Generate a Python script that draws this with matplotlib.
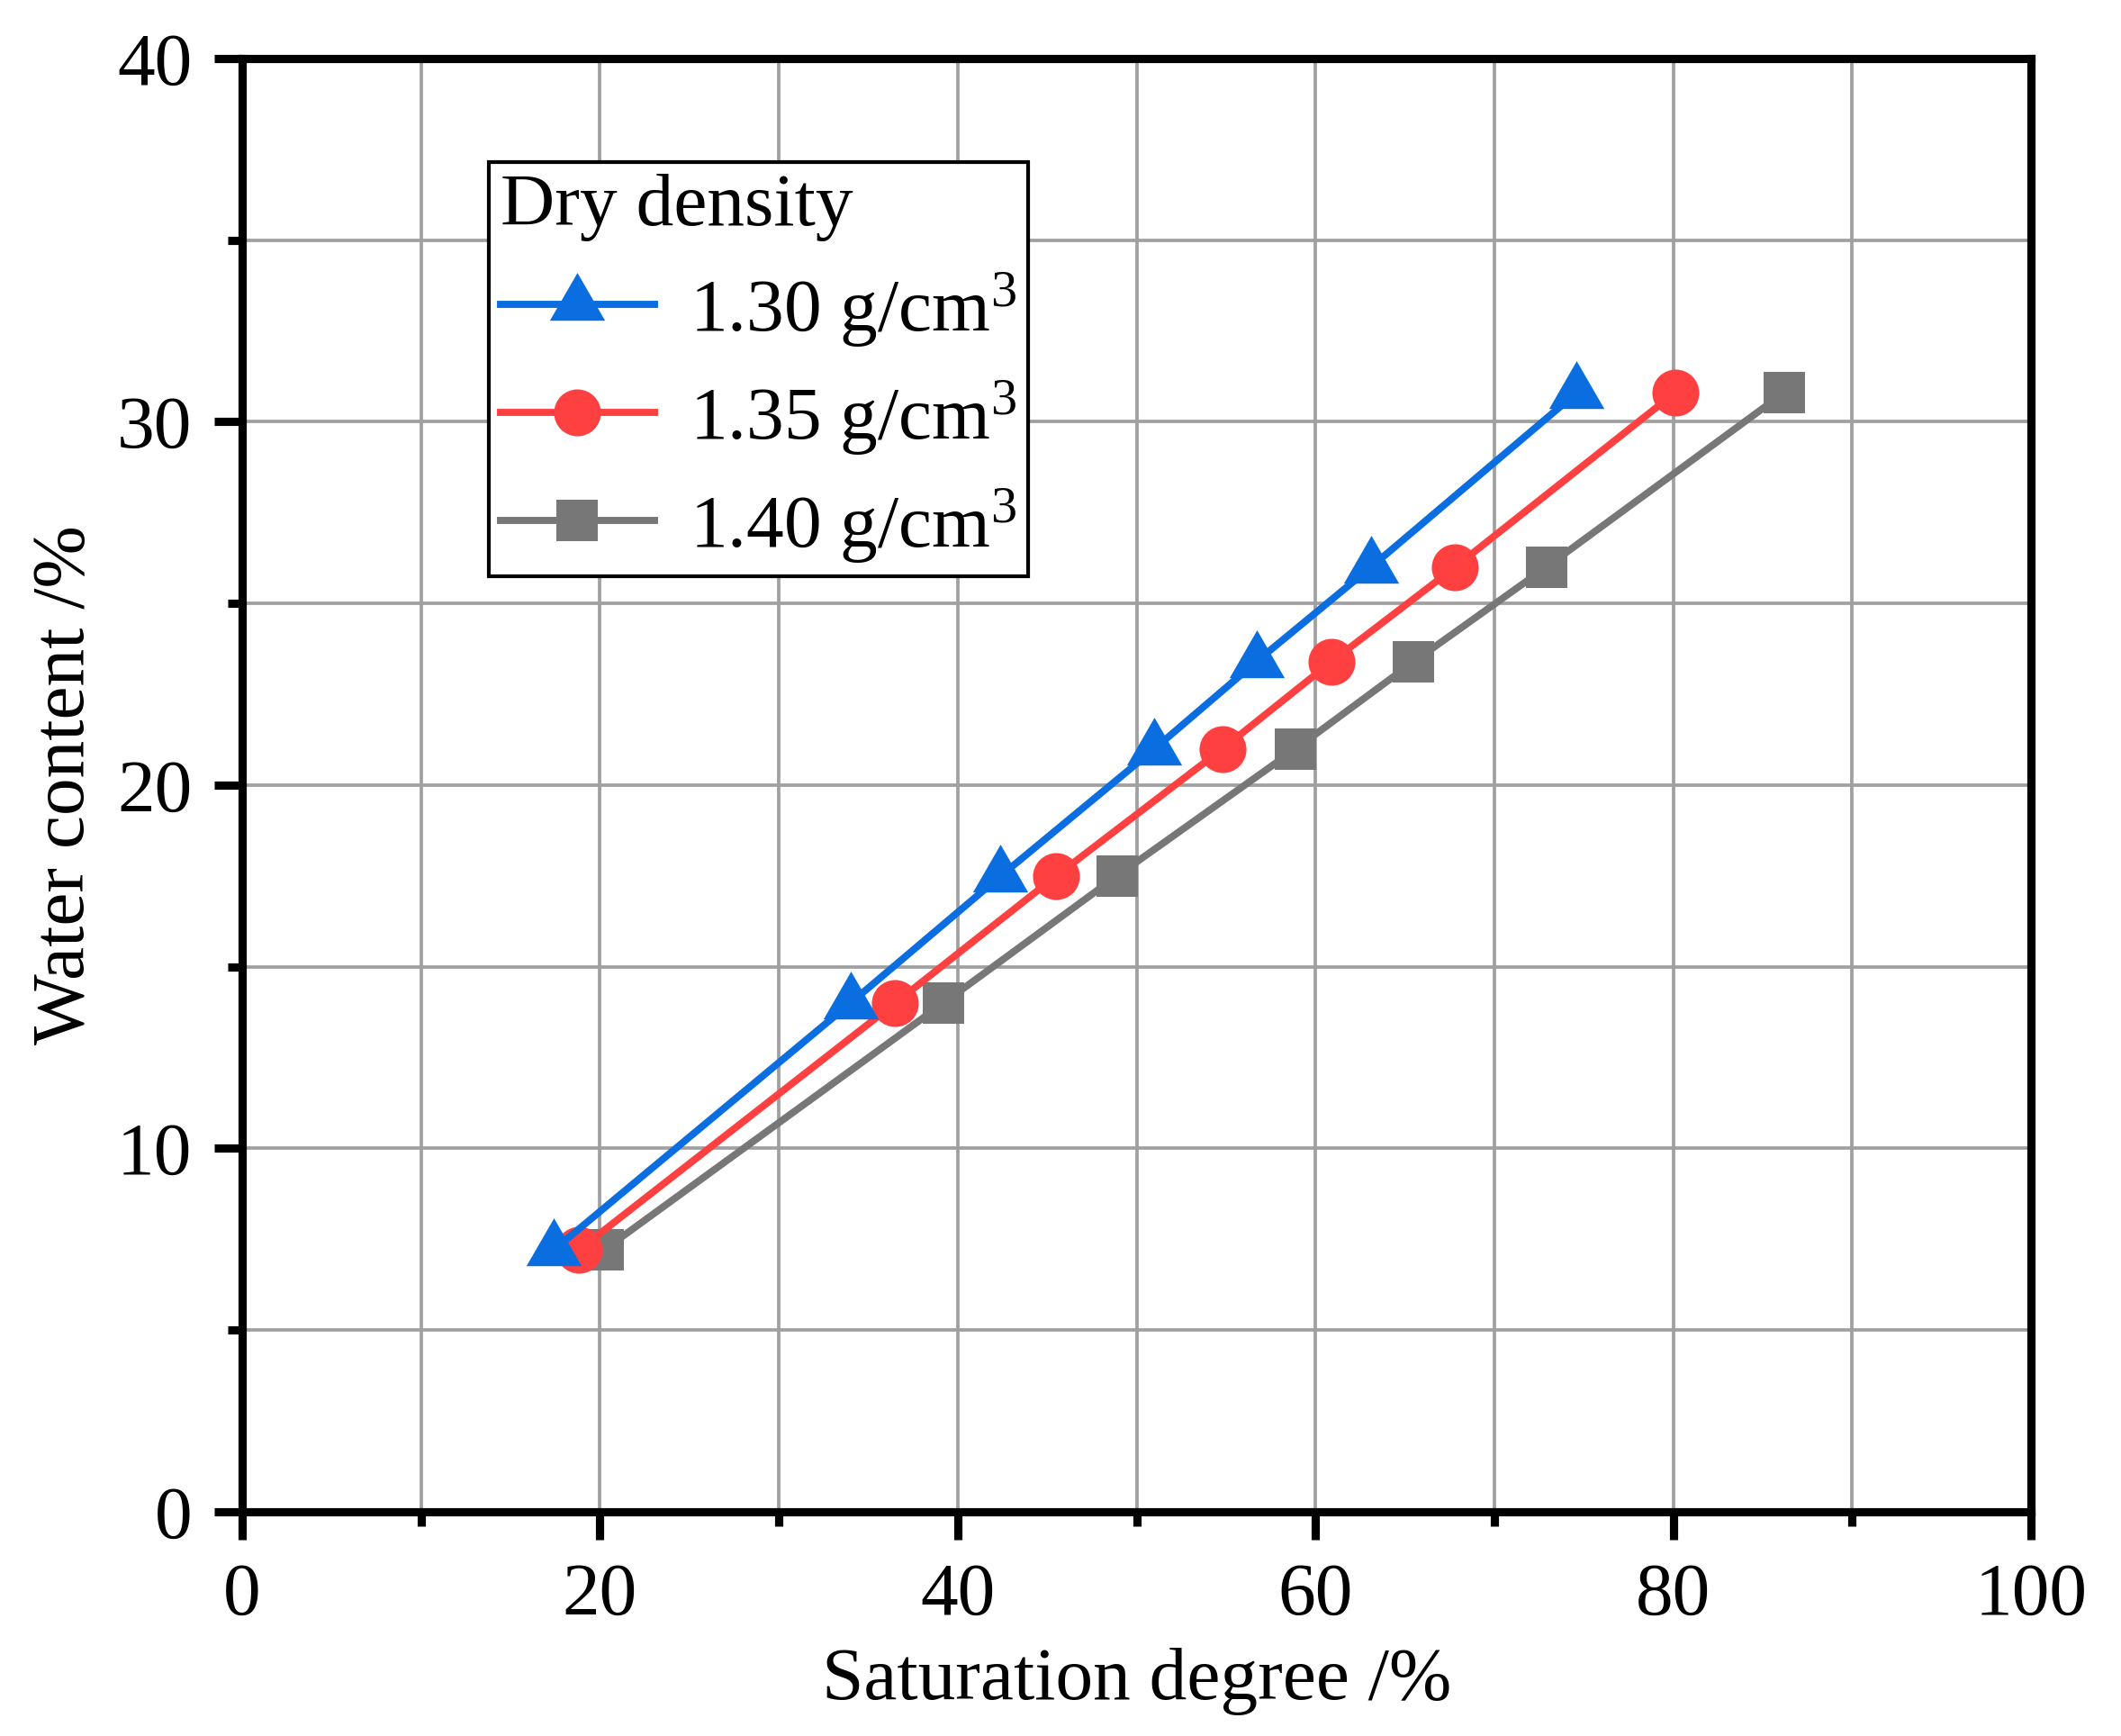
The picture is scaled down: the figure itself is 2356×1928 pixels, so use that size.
import matplotlib
matplotlib.use("Agg")
import matplotlib.pyplot as plt
from matplotlib.path import Path
from matplotlib.ticker import MultipleLocator
import numpy as np

plt.rcParams['font.family'] = ['Liberation Serif', 'DejaVu Serif']
plt.rcParams['mathtext.fontset'] = 'custom'
plt.rcParams['mathtext.rm'] = 'Liberation Serif'
plt.rcParams['mathtext.it'] = 'Liberation Serif:italic'

# ---- data ----
water_content = [7.2, 14.0, 17.5, 21.0, 23.4, 26.0, 30.8]
sat_130 = [17.4, 34.0, 42.4, 51.0, 56.7, 63.1, 74.6]
sat_135 = [18.8, 36.5, 45.5, 54.8, 60.9, 67.8, 80.1]
sat_140 = [20.2, 39.2, 48.9, 58.9, 65.5, 72.9, 86.2]
labels = ["1.30 g/cm$^3$", "1.35 g/cm$^3$", "1.40 g/cm$^3$"]
legend_title = "Dry density"
x_label = "Saturation degree /%"
y_label = "Water content /%"

blue = "#0A6EE0"
red = "#FF4040"
gray = "#777777"

# triangle centred on its centroid (like Origin)
tri = Path([(0, 1), (-0.866, -0.5), (0.866, -0.5), (0, 1)],
           [Path.MOVETO, Path.LINETO, Path.LINETO, Path.CLOSEPOLY])

fig = plt.figure(figsize=(2356 / 300, 1928 / 300), dpi=300)
ax = fig.add_axes([0.11418, 0.12915, 0.84338, 0.83714])

lw = 1.9
h3, = ax.plot(sat_140, water_content, color=gray, lw=lw, marker='s', ms=11.2,
              mec='none', mfc=gray, zorder=3)
h2, = ax.plot(sat_135, water_content, color=red, lw=lw, marker='o', ms=12.5,
              mec='none', mfc=red, zorder=4)
h1, = ax.plot(sat_130, water_content, color=blue, lw=lw, marker=tri, ms=17.0,
              mec='none', mfc=blue, zorder=5)

ax.set_xlim(0, 100)
ax.set_ylim(0, 40)
ax.xaxis.set_major_locator(MultipleLocator(20))
ax.xaxis.set_minor_locator(MultipleLocator(10))
ax.yaxis.set_major_locator(MultipleLocator(10))
ax.yaxis.set_minor_locator(MultipleLocator(5))

ax.grid(True, which='both', color='#A0A0A0', lw=0.9, zorder=0)
ax.set_axisbelow(True)

for s in ax.spines.values():
    s.set_linewidth(2.2)
    s.set_color('black')

ax.tick_params(which='major', direction='out', length=7.4, width=2.2,
               labelsize=20, pad=6, top=False, right=False)
ax.tick_params(which='minor', direction='out', length=3.8, width=2.2,
               top=False, right=False)

ax.set_xlabel(x_label, fontsize=20, labelpad=4.5)
ax.set_ylabel(y_label, fontsize=20, labelpad=4.5)

leg = ax.legend([h1, h2, h3], labels, title=legend_title, loc='upper left',
                bbox_to_anchor=(0.1379, 0.929), borderaxespad=0,
                fontsize=20, title_fontsize=20, frameon=True, fancybox=False,
                edgecolor='black', framealpha=1, borderpad=0.15,
                labelspacing=0.395, handlelength=2.06, handletextpad=0.47,
                alignment='left')
leg.get_frame().set_linewidth(1.0)

fig.savefig("out.png", dpi=300)
